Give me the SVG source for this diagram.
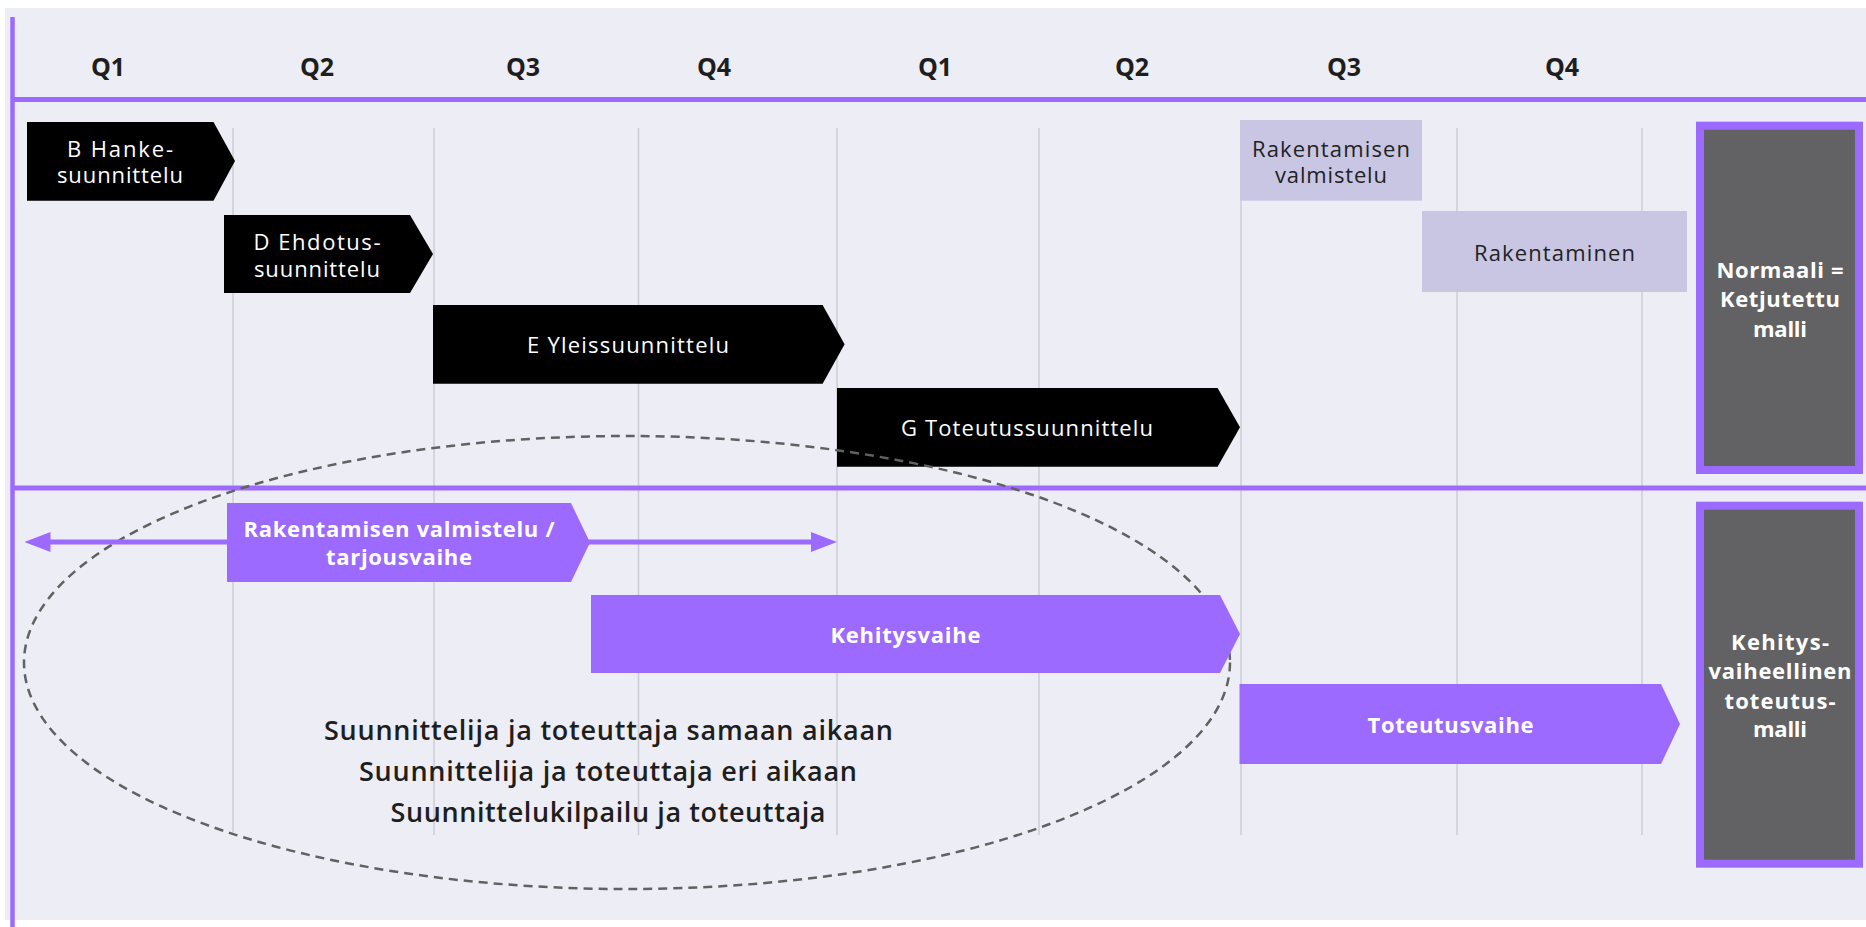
<svg xmlns="http://www.w3.org/2000/svg" width="1866" height="927" viewBox="0 0 1866 927">
  <style>
    .bg { fill: #EDEDF5; }
    .grid { stroke: #CCCCD5; stroke-width: 1.5; }
    .band { stroke: #9D6AFF; stroke-width: 5; }
    .q { font-family: "Open Sans", "Liberation Sans", sans-serif; font-weight: 700; font-size: 25px; fill: #1E1E1E; text-anchor: middle; }
    .blk { fill: #000000; }
    .lav { fill: #C9C6E4; }
    .pur { fill: #9D6AFF; }
    .model { fill: #626264; stroke: #9D6AFF; stroke-width: 8; }
    .tw { font-family: "Open Sans", "Liberation Sans", sans-serif; font-size: 22px; fill: #FFFFFF; text-anchor: middle; }
    .td { font-family: "Open Sans", "Liberation Sans", sans-serif; font-size: 22px; fill: #222222; text-anchor: middle; }
    .tb { font-family: "Open Sans", "Liberation Sans", sans-serif; font-weight: 700; font-size: 22px; fill: #FFFFFF; text-anchor: middle; }
    .tm { font-family: "Open Sans", "Liberation Sans", sans-serif; font-weight: 600; font-size: 27px; fill: #1E1E1E; text-anchor: middle; }
    .dash { fill: none; stroke: #616161; stroke-width: 2.5; stroke-dasharray: 9 6; }
    .arrow { stroke: #9D6AFF; stroke-width: 5; fill: none; }
  </style>
  <defs>
    <marker id="head" viewBox="0 0 26 20" refX="19" refY="10" markerWidth="26" markerHeight="20" markerUnits="userSpaceOnUse" orient="auto-start-reverse">
      <path d="M0,0 L26,10 L0,20 z" fill="#9D6AFF"/>
    </marker>
  </defs>

  <g id="background">
    <rect class="bg" x="5" y="8" width="1861" height="912"/>
    <line x1="12.5" y1="17" x2="12.5" y2="927" stroke="#9D6AFF" stroke-width="4.5"/>
    <line class="grid" x1="233" y1="128" x2="233" y2="835"/>
    <line class="grid" x1="434" y1="128" x2="434" y2="835"/>
    <line class="grid" x1="638.5" y1="128" x2="638.5" y2="835"/>
    <line class="grid" x1="837" y1="128" x2="837" y2="835"/>
    <line class="grid" x1="1039" y1="128" x2="1039" y2="835"/>
    <line class="grid" x1="1241" y1="128" x2="1241" y2="835"/>
    <line class="grid" x1="1457" y1="128" x2="1457" y2="835"/>
    <line class="grid" x1="1642" y1="128" x2="1642" y2="835"/>
    <line class="band" x1="12" y1="99.5" x2="1866" y2="99.5"/>
    <line class="band" x1="12" y1="488" x2="1866" y2="488"/>
  </g>

  <g id="quarters">
    <text class="q" x="108" y="76">Q1</text>
    <text class="q" x="317" y="76">Q2</text>
    <text class="q" x="523" y="76">Q3</text>
    <text class="q" x="714" y="76">Q4</text>
    <text class="q" x="935" y="76">Q1</text>
    <text class="q" x="1132" y="76">Q2</text>
    <text class="q" x="1344" y="76">Q3</text>
    <text class="q" x="1562" y="76">Q4</text>
  </g>

  <g id="b-hankesuunnittelu">
    <polygon class="blk" points="27,122 213.5,122 235,161 213.5,200.7 27,200.7"/>
    <text class="tw" x="120" y="156.5" textLength="106">B Hanke-</text>
    <text class="tw" x="120" y="183.3" textLength="126">suunnittelu</text>
  </g>

  <g id="d-ehdotussuunnittelu">
    <polygon class="blk" points="224,215 410,215 433,254 410,293 224,293"/>
    <text class="tw" x="317" y="250" textLength="127">D Ehdotus-</text>
    <text class="tw" x="317" y="276.8" textLength="126">suunnittelu</text>
  </g>

  <g id="e-yleissuunnittelu">
    <polygon class="blk" points="433,305 822.6,305 844.6,344.3 822.6,383.7 433,383.7"/>
    <text class="tw" x="628" y="352.7" textLength="202">E Yleissuunnittelu</text>
  </g>

  <g id="g-toteutussuunnittelu">
    <polygon class="blk" points="837,388 1217.6,388 1240,427.3 1217.6,466.7 837,466.7"/>
    <text class="tw" x="1027" y="435.7" textLength="252">G Toteutussuunnittelu</text>
  </g>

  <g id="rakentamisen-valmistelu">
    <rect class="lav" x="1240" y="120" width="182" height="80.7"/>
    <text class="td" x="1331" y="156.5" textLength="158">Rakentamisen</text>
    <text class="td" x="1331" y="183.3" textLength="112">valmistelu</text>
  </g>

  <g id="rakentaminen">
    <rect class="lav" x="1422" y="211" width="265" height="81"/>
    <text class="td" x="1554.5" y="261" textLength="161">Rakentaminen</text>
  </g>

  <g id="grouping-ellipse">
    <ellipse class="dash" cx="627" cy="662.5" rx="603" ry="226.5"/>
  </g>

  <g id="connectors">
    <line class="arrow" x1="31.5" y1="542" x2="830" y2="542" marker-start="url(#head)" marker-end="url(#head)"/>
  </g>

  <g id="tarjousvaihe">
    <polygon class="pur" points="227,503 571,503 590,542.5 571,582 227,582"/>
    <text class="tb" x="399" y="537" textLength="311">Rakentamisen valmistelu /</text>
    <text class="tb" x="399" y="565" textLength="146">tarjousvaihe</text>
  </g>

  <g id="kehitysvaihe">
    <polygon class="pur" points="591,595 1220,595 1240,634 1220,673 591,673"/>
    <text class="tb" x="905.5" y="642.7" textLength="150">Kehitysvaihe</text>
  </g>

  <g id="toteutusvaihe">
    <polygon class="pur" points="1239.5,684 1661,684 1680,724 1661,764 1239.5,764"/>
    <text class="tb" x="1450.5" y="733" textLength="166">Toteutusvaihe</text>
  </g>

  <g id="normaali-malli">
    <rect class="model" x="1700" y="125.7" width="159" height="344.3"/>
    <text class="tb" x="1780" y="278" textLength="127">Normaali =</text>
    <text class="tb" x="1780" y="307" textLength="120">Ketjutettu</text>
    <text class="tb" x="1780" y="337" textLength="54">malli</text>
  </g>

  <g id="kehitysvaiheellinen-malli">
    <rect class="model" x="1700" y="505.7" width="159" height="358"/>
    <text class="tb" x="1780" y="650" textLength="98">Kehitys-</text>
    <text class="tb" x="1780" y="679" textLength="143">vaiheellinen</text>
    <text class="tb" x="1780" y="709" textLength="111">toteutus-</text>
    <text class="tb" x="1780" y="737" textLength="54">malli</text>
  </g>

  <g id="ellipse-text">
    <text class="tm" x="608.5" y="740" textLength="569">Suunnittelija ja toteuttaja samaan aikaan</text>
    <text class="tm" x="608" y="781" textLength="498">Suunnittelija ja toteuttaja eri aikaan</text>
    <text class="tm" x="608" y="821.7" textLength="435">Suunnittelukilpailu ja toteuttaja</text>
  </g>
</svg>
